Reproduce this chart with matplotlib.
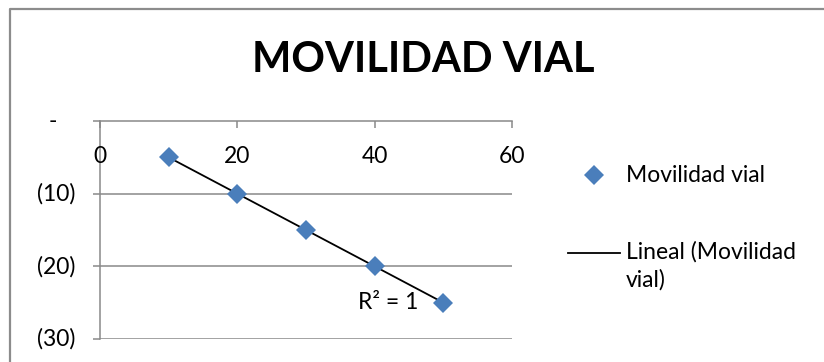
import numpy as np
import matplotlib
matplotlib.use("Agg")
import matplotlib.pyplot as plt
from matplotlib.lines import Line2D

plt.rcParams['font.family'] = ['Lato', 'DejaVu Sans']

# data
x_vals = [10, 20, 30, 40, 50]
y_vals = [-5, -10, -15, -20, -25]
x_ticks = [0, 20, 40, 60]
y_ticks = [0, -10, -20, -30]
y_tick_labels = ['-', '(10)', '(20)', '(30)']
title = 'MOVILIDAD VIAL'
series_name = 'Movilidad vial'
trend_name = 'Lineal (Movilidad\nvial)'

blue = '#4A7EBB'
grid_gray = '#898989'

fig = plt.figure(figsize=(8.24, 3.62), dpi=100)
W, H = 824, 362
ax = fig.add_axes([100 / W, 1 - 339 / H, 412 / W, 218 / H])

ax.set_xlim(0, 60)
ax.set_ylim(-30, 0)

# gridlines
for yt in y_ticks[1:]:
    ax.axhline(yt, color=grid_gray, lw=1.1, zorder=1)

# axes lines
for s in ['right', 'bottom']:
    ax.spines[s].set_visible(False)
ax.spines['left'].set_color(grid_gray)
ax.spines['left'].set_linewidth(1.1)
ax.spines['top'].set_color(grid_gray)
ax.spines['top'].set_linewidth(1.1)

ax.set_xticks(x_ticks)
ax.xaxis.tick_top()
ax.tick_params(axis='x', direction='in', length=5, width=1.1, color=grid_gray,
               labeltop=False, labelbottom=False)
ax.set_yticks(y_ticks)
ax.tick_params(axis='y', direction='out', length=5, width=1.1, color=grid_gray,
               labelleft=False)

# tick labels
for xt in x_ticks:
    ax.text(xt, 0.835, str(xt), transform=ax.get_xaxis_transform(),
            ha='center', va='center', fontsize=16.5, color='black')
for yt, lab in zip(y_ticks, y_tick_labels):
    if lab == '-':
        ax.text(-47 / 412, yt, lab, transform=ax.get_yaxis_transform(),
                ha='center', va='center', fontsize=16.5, clip_on=False)
    else:
        ax.text(-25 / 412, yt, lab, transform=ax.get_yaxis_transform(),
                ha='right', va='center', fontsize=16.5, clip_on=False)

# trendline
coef = np.polyfit(x_vals, y_vals, 1)
xs = np.array([min(x_vals), max(x_vals)])
ax.plot(xs, np.polyval(coef, xs), color='black', lw=1.3, zorder=3)
pred = np.polyval(coef, x_vals)
r2 = 1 - np.sum((np.array(y_vals) - pred) ** 2) / np.sum((np.array(y_vals) - np.mean(y_vals)) ** 2)
ax.text(46.3, -25.0, 'R² = %d' % round(r2), ha='right', va='center', fontsize=16.5)

# scatter
ax.plot(x_vals, y_vals, linestyle='none', marker='D', markersize=10,
        color=blue, markeredgewidth=0, zorder=4, clip_on=False)

# title
fig.text(423 / W, 1 - 60 / H, title, ha='center', va='center',
         fontsize=30, fontweight='bold')

# legend (manual)
fig.add_artist(Line2D([594 / W], [1 - 175 / H], marker='D', markersize=10,
                      color=blue, markeredgewidth=0, linestyle='none'))
fig.text(626 / W, 1 - 176 / H, series_name, ha='left', va='center', fontsize=16.5)
fig.add_artist(Line2D([568 / W, 620 / W], [1 - 253 / H, 1 - 253 / H],
                      color='black', lw=1.3))
fig.text(626 / W, 1 - 241 / H, trend_name, ha='left', va='top', fontsize=16.5,
         linespacing=1.35)

# outer chart border
fig.add_artist(Line2D([9.5 / W, 9.5 / W, 1.0], [0, 1 - 8.5 / H, 1 - 8.5 / H],
                      color='#8c8c8c', lw=1.6))

fig.savefig('out.png', dpi=100)
